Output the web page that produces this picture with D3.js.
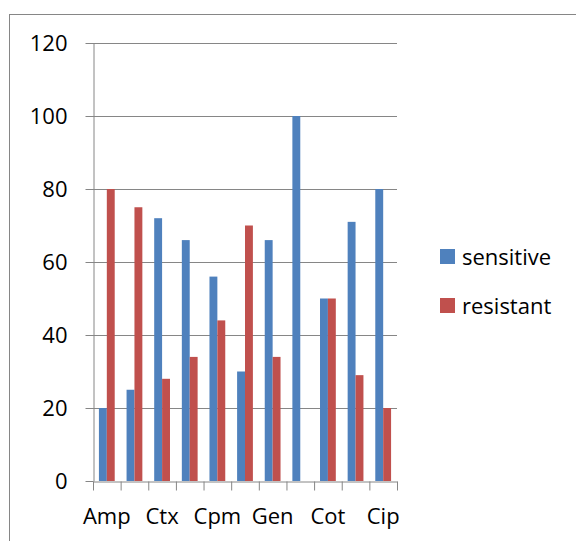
<!DOCTYPE html>
<html>
<head>
<meta charset="utf-8">
<script src="https://cdn.jsdelivr.net/npm/d3@7"></script>
<style>
  body { margin: 0; background: #fff; }
  svg text { font-family: "Open Sans", "Noto Sans", sans-serif; font-size: 22px; fill: #000; }
  .axis path, .axis line { stroke: #868686; }
</style>
</head>
<body>
<div id="chart"></div>
<script>
// antibiotic categories (only every other label is shown, as in the source)
const drugs = ["Amp", "Amc", "Ctx", "Caz", "Cpm", "Cro", "Gen", "Ak", "Cot", "Nal", "Cip"];
const sensitive = [20, 25, 72, 66, 56, 30, 66, 100, 50, 71, 80];
const resistant = [80, 75, 28, 34, 44, 70, 34, 0, 50, 29, 20];
const seriesNames = ["sensitive", "resistant"];
const colors = ["#4F81BD", "#C0504D"];
const yTicks = [0, 20, 40, 60, 80, 100, 120];

const W = 576, H = 541;
const margin = {top: 43, right: 179, bottom: 60, left: 93};
const width = W - margin.left - margin.right;
const height = H - margin.top - margin.bottom;

const root = d3.select("#chart").append("svg")
    .attr("width", W)
    .attr("height", H);

// outer chart border (right and bottom edges fall outside the picture)
root.append("rect")
    .attr("x", 9.5).attr("y", 14.5)
    .attr("width", W + 10).attr("height", H + 10)
    .attr("fill", "none")
    .attr("stroke", "#868686")
    .attr("stroke-width", 1);

const svg = root.append("g")
    .attr("transform", "translate(" + margin.left + "," + margin.top + ")");

// scales
const x = d3.scaleBand().domain(drugs).range([0, width]);
const xEdge = d3.scaleLinear().domain([0, drugs.length]).range([0, width]);
const y = d3.scaleLinear().domain([0, 120]).range([height, 0]);

// gridlines
svg.append("g")
    .selectAll("line")
    .data(yTicks.filter(d => d > 0))
    .join("line")
    .attr("x1", 0).attr("x2", width)
    .attr("y1", d => Math.round(y(d)) + 0.5)
    .attr("y2", d => Math.round(y(d)) + 0.5)
    .attr("stroke", "#868686");

// bars: two bars per category, gap width 150%
const barW = x.bandwidth() / 3.5;
const groups = svg.append("g")
    .selectAll("g")
    .data(drugs)
    .join("g")
    .attr("transform", d => "translate(" + x(d) + ",0)");

groups.selectAll("rect")
    .data((d, i) => [sensitive[i], resistant[i]])
    .join("rect")
    .attr("x", (d, j) => barW * 0.75 + j * barW)
    .attr("width", barW)
    .attr("y", d => y(d))
    .attr("height", d => height - y(d))
    .attr("fill", (d, j) => colors[j]);

// y axis
const yAxis = svg.append("g")
    .attr("class", "axis")
    .attr("transform", "translate(0.5,0)")
    .call(d3.axisLeft(y).tickValues(yTicks).tickSizeInner(8).tickSizeOuter(0).tickPadding(18));
yAxis.selectAll("text").attr("dy", "0.36em");

// x axis: ticks on category boundaries
svg.append("g")
    .attr("class", "axis")
    .attr("transform", "translate(0," + (height + 0.5) + ")")
    .call(d3.axisBottom(xEdge).tickValues(d3.range(drugs.length + 1)).tickSizeInner(9).tickSizeOuter(0).tickFormat(""));

// x labels, every other category
svg.append("g")
    .attr("transform", "translate(0," + height + ")")
    .call(d3.axisBottom(x).tickSize(0).tickPadding(27)
        .tickFormat((d, i) => i % 2 === 0 ? d : ""))
    .call(g => g.select(".domain").remove());

// legend
const legend = root.append("g")
    .selectAll("g")
    .data(seriesNames)
    .join("g")
    .attr("transform", (d, i) => "translate(440," + (249 + i * 49) + ")");

legend.append("rect")
    .attr("width", 15).attr("height", 15)
    .attr("fill", (d, i) => colors[i]);

legend.append("text")
    .attr("x", 22).attr("y", 16)
    .text(d => d);
</script>
</body>
</html>
